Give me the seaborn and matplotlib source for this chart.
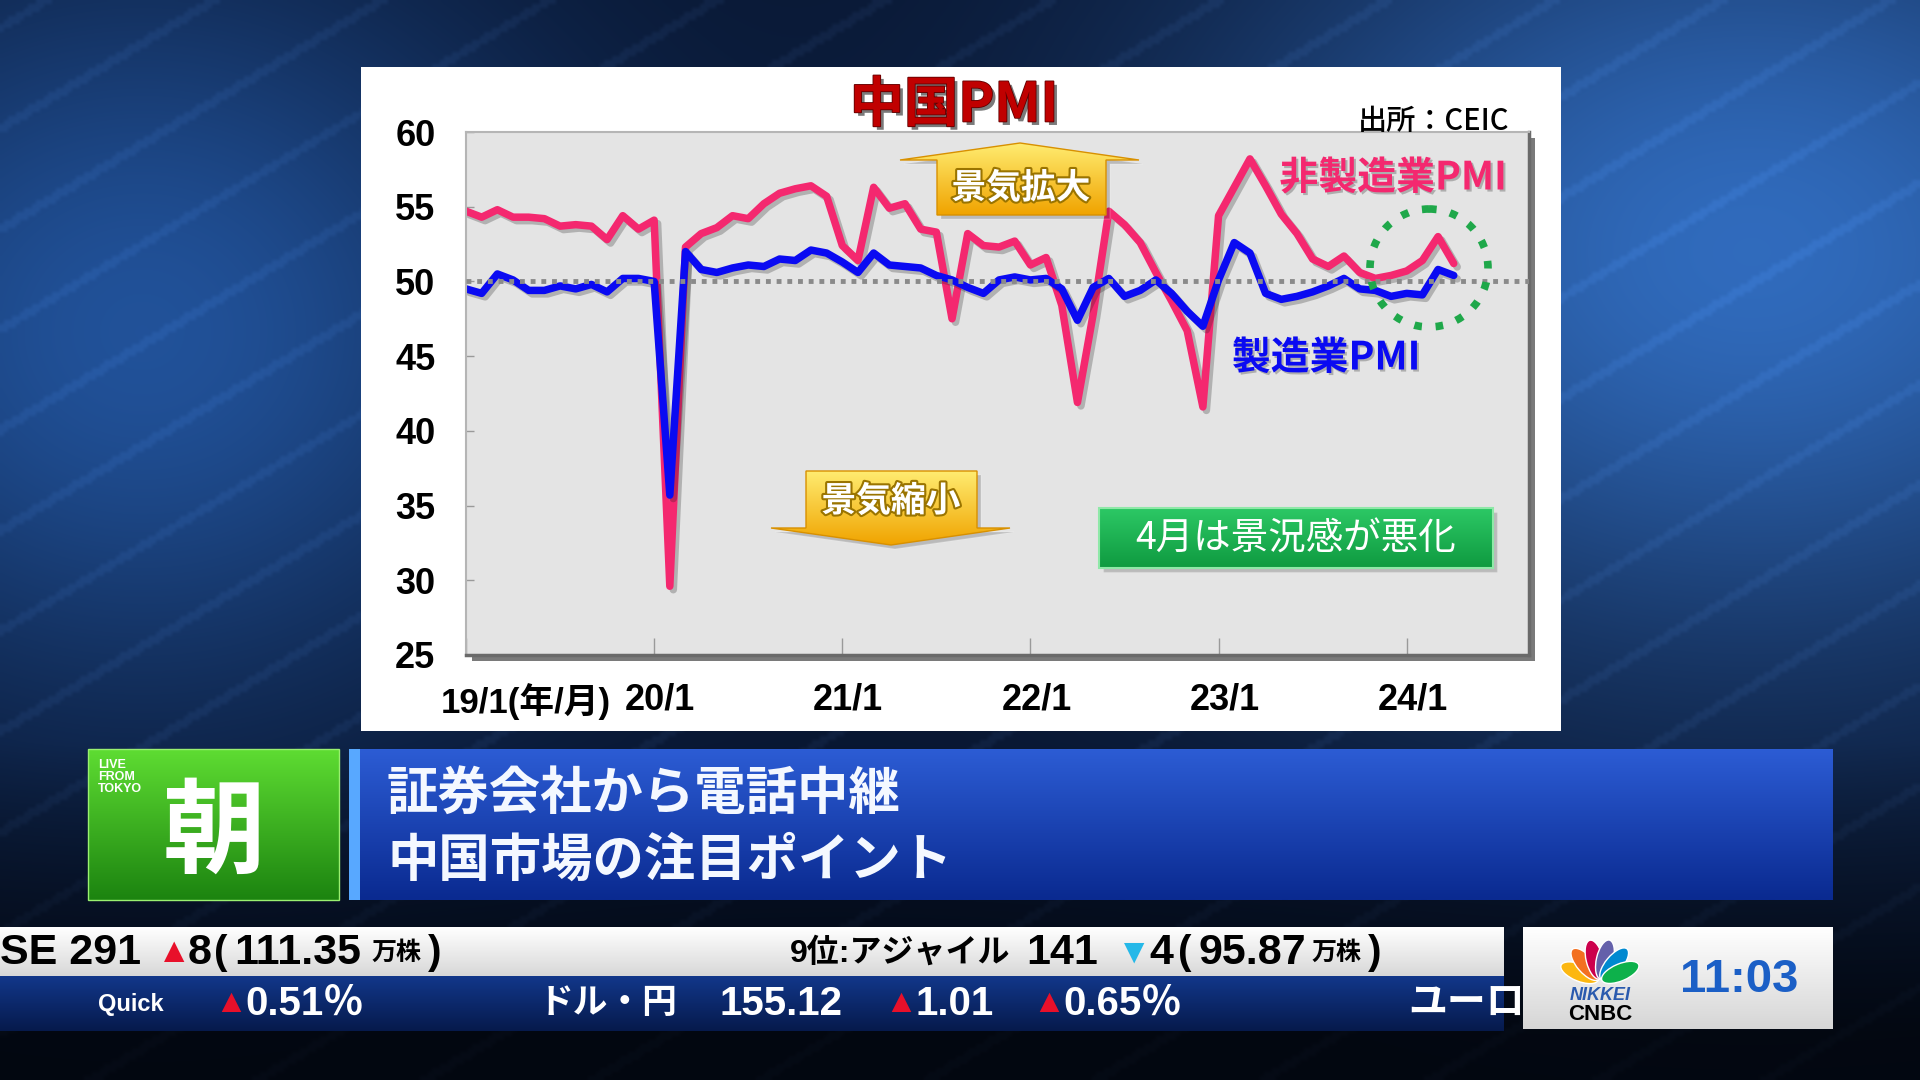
import numpy as np
import pandas as pd
import matplotlib
matplotlib.use("Agg")
import matplotlib.pyplot as plt
import matplotlib.patches as mpatches
import matplotlib.patheffects as pe
import matplotlib.colors as mcolors
from matplotlib.transforms import ScaledTranslation
import seaborn as sns

# ==============================
# データ (19/1 ～ 24/4, 月次)
# ==============================
mfg_pmi = [49.5, 49.2, 50.5, 50.1, 49.4, 49.4, 49.7, 49.5, 49.8, 49.3, 50.2, 50.2,
           50.0, 35.7, 52.0, 50.8, 50.6, 50.9, 51.1, 51.0, 51.5, 51.4, 52.1, 51.9,
           51.3, 50.6, 51.9, 51.1, 51.0, 50.9, 50.4, 50.1, 49.6, 49.2, 50.1, 50.3,
           50.1, 50.2, 49.5, 47.4, 49.6, 50.2, 49.0, 49.4, 50.1, 49.2, 48.0, 47.0,
           50.1, 52.6, 51.9, 49.2, 48.8, 49.0, 49.3, 49.7, 50.2, 49.5, 49.4, 49.0,
           49.2, 49.1, 50.8, 50.4]
non_mfg_pmi = [54.7, 54.3, 54.8, 54.3, 54.3, 54.2, 53.7, 53.8, 53.7, 52.8, 54.4, 53.5,
               54.1, 29.6, 52.3, 53.2, 53.6, 54.4, 54.2, 55.2, 55.9, 56.2, 56.4, 55.7,
               52.4, 51.4, 56.3, 54.9, 55.2, 53.5, 53.3, 47.5, 53.2, 52.4, 52.3, 52.7,
               51.1, 51.6, 48.4, 41.9, 47.8, 54.7, 53.8, 52.6, 50.6, 48.7, 46.7, 41.6,
               54.4, 56.3, 58.2, 56.4, 54.5, 53.2, 51.5, 51.0, 51.7, 50.6, 50.2, 50.4,
               50.7, 51.4, 53.0, 51.2]
series_names = ["非製造業PMI", "製造業PMI"]
xtick_pos = [0, 12, 24, 36, 48, 60]
xtick_labels = ["19/1(年/月)", "20/1", "21/1", "22/1", "23/1", "24/1"]
ytick_vals = [25, 30, 35, 40, 45, 50, 55, 60]

n = len(mfg_pmi)
month = np.arange(n)
df = pd.DataFrame({
    "month": np.r_[month, month],
    "pmi": non_mfg_pmi + mfg_pmi,
    "series": [series_names[0]] * n + [series_names[1]] * n,
})

sns.set_theme(style="white")
plt.rcParams['font.family'] = ['Liberation Sans', 'Noto Sans CJK JP', 'DejaVu Sans']
JP = ['Noto Sans CJK JP', 'DejaVu Sans']

W, H = 1920, 1080
fig = plt.figure(figsize=(19.2, 10.8), dpi=100)


def fx(x):
    return x / W


def fy(y):
    return 1 - y / H


def grad_poly(a, verts, c_top, c_bot, z, ec='none', lw=1.0):
    verts = np.array(verts, float)
    x0, x1 = verts[:, 0].min(), verts[:, 0].max()
    y0, y1 = verts[:, 1].min(), verts[:, 1].max()
    t = np.linspace(0, 1, 64)[:, None]
    ct, cb = np.array(mcolors.to_rgb(c_top)), np.array(mcolors.to_rgb(c_bot))
    g = (ct * (1 - t) + cb * t)[:, None, :]
    poly = mpatches.Polygon(verts, closed=True, fc='none', ec=ec, lw=lw, zorder=z + 0.1)
    a.add_patch(poly)
    im = a.imshow(g, extent=(x0, x1, y1, y0), aspect='auto', zorder=z, interpolation='bilinear')
    im.set_clip_path(poly)
    return poly


def rect(x0, y0, x1, y1):
    return [(x0, y0), (x1, y0), (x1, y1), (x0, y1)]


# ---------- 背景 ----------
bg = fig.add_axes([0, 0, 1, 1], zorder=0)
bg.set_xlim(0, W)
bg.set_ylim(H, 0)
bg.axis('off')
yy, xx = np.mgrid[0:H:4, 0:W:4]
img = np.array([0.03, 0.08, 0.18]) + \
    np.exp(-(((xx - 1750) / 560) ** 2 + ((yy - 250) / 420) ** 2))[..., None] * np.array([0.16, 0.34, 0.56]) + \
    np.exp(-(((xx - 140) / 420) ** 2 + ((yy - 330) / 380) ** 2))[..., None] * np.array([0.10, 0.24, 0.42])
streak = (np.sin((xx * 0.6 + yy) / 16.0) > 0.95) * 0.05
img = img + streak[..., None] * np.array([0.5, 0.7, 1.0])
img *= np.clip(1 - (yy - 740) / 450, 0.35, 1)[..., None]
bg.imshow(np.clip(img, 0, 1), extent=(0, W, H, 0), aspect='auto', interpolation='bilinear', zorder=0)

# 白パネル
bg.add_patch(mpatches.Rectangle((361, 67), 1200, 664, fc='white', ec='none', zorder=2))
# グラフ枠の影
bg.add_patch(mpatches.Rectangle((472, 138), 1063, 523, fc='#7a7a7a', ec='none', zorder=3))

# ---------- グラフ本体 ----------
ax = fig.add_axes([fx(466), fy(655), (1529 - 466) / W, (655 - 132) / H], zorder=2)
ax.set_facecolor('#E4E4E4')
sns.lineplot(data=df, x='month', y='pmi', hue='series', hue_order=series_names,
             palette=['#F4286F', '#0A0AF2'], linewidth=5.4, legend=False, sort=False, ax=ax)
for line in ax.lines:
    line.set_path_effects([pe.SimpleLineShadow(offset=(2.5, -2.5), shadow_color='k', alpha=0.25), pe.Normal()])
ax.axhline(50, color='#8a8a8a', lw=3.5, ls=(0, (1, 1.2)), zorder=5)

ax.set_xlim(0, 67.8)
ax.set_ylim(25, 60)
ax.set_xlabel('')
ax.set_ylabel('')
ax.set_yticks(ytick_vals, labels=[str(v) for v in ytick_vals], fontsize=26, fontweight='bold')
ax.set_xticks(xtick_pos, labels=xtick_labels, fontsize=26, fontweight='bold')
ax.tick_params(axis='y', direction='in', length=6, width=1, color='#9a9a9a', pad=22, labelcolor='black', left=True)
ax.tick_params(axis='x', direction='in', length=12, width=1, color='#9a9a9a', pad=20, labelcolor='black', bottom=True)
for i, lbl in enumerate(ax.get_xticklabels()):
    if i == 0:
        lbl.set_ha('left')
        lbl.set_fontsize(25)
        dx = -25
    else:
        dx = 6
    lbl.set_transform(lbl.get_transform() + ScaledTranslation(dx / 100, 0, fig.dpi_scale_trans))
for s in ['top', 'left']:
    ax.spines[s].set_color('#b5b5b5')
    ax.spines[s].set_linewidth(1.5)
for s in ['right', 'bottom']:
    ax.spines[s].set_color('#6a6a6a')
    ax.spines[s].set_linewidth(2.5)

# ---------- 注記 ----------
ov = fig.add_axes([0, 0, 1, 1], zorder=3)
ov.set_xlim(0, W)
ov.set_ylim(H, 0)
ov.axis('off')
ov.patch.set_alpha(0)

ov.text(954, 106, "中国PMI", family=JP, fontsize=39, fontweight='bold', color='#C00000',
        ha='center', va='center',
        path_effects=[pe.SimplePatchShadow(offset=(2.5, -2.5), shadow_rgbFace='#222', alpha=0.6),
                      pe.Stroke(linewidth=1.2, foreground='#600000'), pe.Normal()])
ov.text(1509, 121, "出所：CEIC", family=JP, fontsize=21, fontweight='medium', color='black',
        ha='right', va='center')

# 景気拡大 (上矢印)
up = [(900, 160), (1020, 143), (1139, 160), (1106, 160), (1106, 215), (937, 215), (937, 160)]
ov.add_patch(mpatches.Polygon([(x + 4, y + 4) for x, y in up], fc='#000', alpha=0.18, zorder=4))
grad_poly(ov, up, '#FFEB70', '#F0A400', 5, ec='#D89000')
ov.text(1021, 188, "景気拡大", family=JP, fontsize=25, fontweight='bold', color='white',
        ha='center', va='center', zorder=7,
        path_effects=[pe.withStroke(linewidth=3, foreground='#9a7400')])

# 景気縮小 (下矢印)
dn = [(806, 471), (977, 471), (977, 528), (1010, 528), (891, 545), (771, 528), (806, 528)]
ov.add_patch(mpatches.Polygon([(x + 4, y + 4) for x, y in dn], fc='#000', alpha=0.18, zorder=4))
grad_poly(ov, dn, '#FFEB70', '#F0A400', 5, ec='#D89000')
ov.text(891, 501, "景気縮小", family=JP, fontsize=25, fontweight='bold', color='white',
        ha='center', va='center', zorder=7,
        path_effects=[pe.withStroke(linewidth=3, foreground='#9a7400')])

# 4月は景況感が悪化
ov.add_patch(mpatches.Rectangle((1103, 512), 394, 60, fc='#000', alpha=0.18, zorder=4))
grad_poly(ov, rect(1099, 508, 1493, 568), '#2CC865', '#0F9A40', 5, ec='#8FE8A8', lw=1.5)
ov.text(1296, 539, "4月は景況感が悪化", family=JP, fontsize=27, color='white',
        ha='center', va='center', zorder=7)

# 系列ラベル
ov.text(1393, 178, "非製造業PMI", family=JP, fontsize=28, fontweight='bold', color='#F4286F',
        ha='center', va='center', zorder=7,
        path_effects=[pe.SimplePatchShadow(offset=(1.5, -1.5), shadow_rgbFace='#777', alpha=0.5), pe.Normal()])
ov.text(1326, 358, "製造業PMI", family=JP, fontsize=28, fontweight='bold', color='#0A0AF2',
        ha='center', va='center', zorder=7,
        path_effects=[pe.SimplePatchShadow(offset=(1.5, -1.5), shadow_rgbFace='#777', alpha=0.5), pe.Normal()])

# 緑の点線円
ov.add_patch(mpatches.Ellipse((1429, 268), 118, 118, fc='none', ec='#1FA84A', lw=5.5,
                              ls=(0, (1, 1.8)), zorder=6))

# ---------- 下部テロップ ----------
grad_poly(bg, rect(88, 749, 339, 900), '#5EDC32', '#1C8410', 4, ec='#9af070')
bg.text(98, 777, "LIVE\nFROM\nTOKYO", fontsize=9, fontweight='bold', color='white',
        ha='left', va='center', linespacing=1.0, zorder=6)
bg.text(214, 834, "朝", family=JP, fontsize=74, fontweight='bold', color='white',
        ha='center', va='center', zorder=6)

grad_poly(bg, rect(349, 749, 1833, 900), '#2C5CD4', '#0A2A90', 4)
bg.add_patch(mpatches.Rectangle((349, 749), 11, 151, fc='#58A8FF', ec='none', zorder=5))
bg.text(387, 794, "証券会社から電話中継", family=JP, fontsize=37, fontweight='bold', color='#F4F8FF',
        ha='left', va='center', zorder=6)
bg.text(387, 860, "中国市場の注目ポイント", family=JP, fontsize=37, fontweight='bold', color='#F4F8FF',
        ha='left', va='center', zorder=6)

grad_poly(bg, rect(0, 927, 1504, 976), '#FFFFFF', '#D8D8D8', 4)
grad_poly(bg, rect(0, 976, 1504, 1031), '#12378A', '#061A4C', 4)
clip = mpatches.Rectangle((0, 920), 1504, 120, transform=bg.transData, fc='none', ec='none')

ticker1 = [(0, "SE 291", 'black', 31), (157, "▲", '#E8102A', 25), (188, "8", 'black', 31),
           (214, "(", 'black', 29), (234, "111.35", 'black', 31), (372, "万株", 'black', 18),
           (428, ")", 'black', 29),
           (790, "9位:アジャイル", 'black', 23), (1026, "141", 'black', 31), (1117, "▼", '#25B8E8', 25),
           (1149, "4", 'black', 31), (1178, "(", 'black', 29), (1198, "95.87", 'black', 31),
           (1312, "万株", 'black', 18), (1368, ")", 'black', 29)]
for x, s, c, fs in ticker1:
    bg.text(x, 953, s, fontsize=fs, fontweight='bold', color=c, ha='left', va='center', zorder=6)

ticker2 = [(214, "▲", '#E8102A', 24), (245, "0.51％", 'white', 29), (539, "ドル・円", 'white', 25),
           (719, "155.12", 'white', 29), (884, "▲", '#E8102A', 24), (916, "1.01", 'white', 29),
           (1032, "▲", '#E8102A', 24), (1063, "0.65％", 'white', 29), (1408, "ユーロ", 'white', 28)]
bg.text(98, 1004, "Quick", fontsize=17, fontweight='bold', color='white',
        ha='left', va='center', zorder=6)
for x, s, c, fs in ticker2:
    t = bg.text(x, 1004, s, fontsize=fs, fontweight='bold', color=c, ha='left', va='center', zorder=6)
    t.set_clip_path(clip)

# ロゴ・時刻
grad_poly(bg, rect(1523, 927, 1833, 1029), '#FFFFFF', '#D6D6D6', 4)
feather_cols = ['#FCB711', '#F37021', '#CC004C', '#6460AA', '#0089D0', '#0DB14B']
for i, c in enumerate(feather_cols):
    a = np.radians(158 - i * 27)
    cx, cy = 1600 + 22 * np.cos(a), 981 - 22 * np.sin(a)
    bg.add_patch(mpatches.Ellipse((cx, cy), 40, 17, angle=-np.degrees(a), fc=c, ec='white', lw=1.0, zorder=6))
bg.text(1600, 995, "NIKKEI", fontsize=13, fontweight='bold', style='italic', color='#2A5AAE',
        ha='center', va='center', zorder=7)
bg.text(1600, 1015, "CNBC", fontsize=16, fontweight='bold', color='black', ha='center', va='center', zorder=7)
bg.text(1739, 980, "11:03", fontsize=34, fontweight='bold', color='#1B5FC6', ha='center', va='center', zorder=6)

fig.savefig("out.png", dpi=100)
